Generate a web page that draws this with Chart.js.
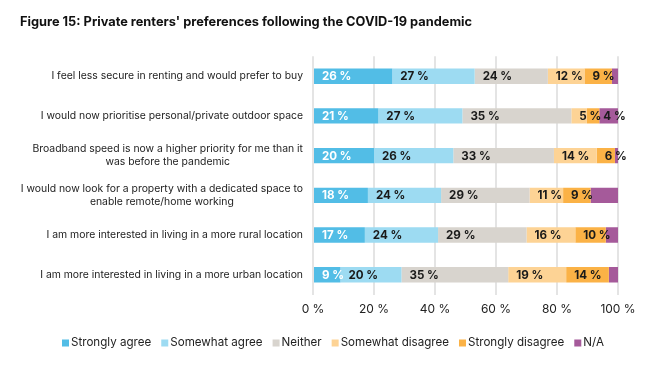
<!DOCTYPE html>
<html>
<head>
<meta charset="utf-8">
<script src="https://cdn.jsdelivr.net/npm/chart.js@4"></script>
<style>
  html, body { margin: 0; padding: 0; background: #ffffff; }
  #wrap { width: 649px; height: 365px; position: relative; }
</style>
</head>
<body>
<div id="wrap"><canvas id="chart"></canvas></div>
<script>
  // statements, top to bottom
  const CATEGORIES = [
    ['I feel less secure in renting and would prefer to buy'],
    ['I would now prioritise personal/private outdoor space'],
    ['Broadband speed is now a higher priority for me than it', 'was before the pandemic'],
    ['I would now look for a property with a dedicated space to', 'enable remote/home working'],
    ['I am more interested in living in a more rural location'],
    ['I am more interested in living in a more urban location']
  ];

  const STRONGLY_AGREE = [26, 21, 20, 18, 17, 9];
  const SOMEWHAT_AGREE = [27, 27, 26, 24, 24, 20];
  const NEITHER = [24, 35, 33, 29, 29, 35];
  const SOMEWHAT_DISAGREE = [12, 5, 14, 11, 16, 19];
  const STRONGLY_DISAGREE = [9, 4, 6, 9, 10, 14];
  const NOT_APPLICABLE = [2, 6, 1, 9, 4, 3];
  // only one N/A value is labelled in the original
  const NA_LABELS = ['', '4 %', '', '', '', ''];

  const X_TICKS = [0, 20, 40, 60, 80, 100];

  const SERIES = [
    { label: 'Strongly agree', values: STRONGLY_AGREE, color: '#52bde6' },
    { label: 'Somewhat agree', values: SOMEWHAT_AGREE, color: '#9ddbf2' },
    { label: 'Neither', values: NEITHER, color: '#d8d4ce' },
    { label: 'Somewhat disagree', values: SOMEWHAT_DISAGREE, color: '#fdd395' },
    { label: 'Strongly disagree', values: STRONGLY_DISAGREE, color: '#fbb246' },
    { label: 'N/A', values: NOT_APPLICABLE, color: '#a55a9a' }
  ];

  const FONT = 'Inter, "DejaVu Sans", sans-serif';

  // 100% stacked: each row is scaled to its own total
  const rowTotals = CATEGORIES.map((_, i) => SERIES.reduce((s, d) => s + d.values[i], 0));

  const datasets = SERIES.map((s) => ({
    label: s.label,
    raw: s.values,
    data: s.values.map((v, i) => v / rowTotals[i] * 100),
    backgroundColor: s.color,
    borderWidth: 0,
    categoryPercentage: 0.8,
    barPercentage: 0.485
  }));

  const valueLabels = {
    id: 'valueLabels',
    afterDatasetsDraw(chart) {
      const ctx = chart.ctx;
      ctx.save();
      ctx.font = 'bold 11.6px ' + FONT;
      ctx.textAlign = 'left';
      ctx.textBaseline = 'middle';
      chart.data.datasets.forEach((ds, di) => {
        const meta = chart.getDatasetMeta(di);
        meta.data.forEach((bar, i) => {
          let text = '';
          if (di === SERIES.length - 1) text = NA_LABELS[i];
          else if (ds.raw[i] >= 5) text = ds.raw[i] + ' %';
          if (!text) return;
          const left = Math.min(bar.x, bar.base);
          const pad = di === SERIES.length - 1 ? 4 : 8;
          ctx.fillStyle = di === 0 ? '#ffffff' : '#1a1a1a';
          ctx.fillText(text, left + pad, bar.y + 0.5);
        });
      });
      ctx.restore();
    }
  };

  const categoryLabels = {
    id: 'categoryLabels',
    afterDraw(chart) {
      const ctx = chart.ctx;
      const yScale = chart.scales.y;
      const right = chart.chartArea.left - 10;
      const lineH = 12.6;
      ctx.save();
      ctx.font = '10.4px ' + FONT;
      ctx.fillStyle = '#222222';
      ctx.textAlign = 'center';
      ctx.textBaseline = 'middle';
      CATEGORIES.forEach((lines, i) => {
        const py = yScale.getPixelForValue(i);
        const w = Math.max(...lines.map((l) => ctx.measureText(l).width));
        const cx = right - w / 2;
        const y0 = py - (lines.length - 1) * lineH / 2;
        lines.forEach((l, k) => ctx.fillText(l, cx, y0 + k * lineH));
      });
      ctx.restore();
    }
  };

  // compact legend: small square right next to its text
  const bottomLegend = {
    id: 'bottomLegend',
    afterDraw(chart) {
      const ctx = chart.ctx;
      const box = 7;
      let x = 62;
      const y = 343;
      ctx.save();
      ctx.font = '11.6px ' + FONT;
      ctx.textAlign = 'left';
      ctx.textBaseline = 'middle';
      chart.data.datasets.forEach((ds) => {
        ctx.fillStyle = ds.backgroundColor;
        ctx.fillRect(x, y - box / 2, box, box);
        x += box + 2;
        ctx.fillStyle = '#222222';
        ctx.fillText(ds.label, x, y);
        x += ctx.measureText(ds.label).width + 10;
      });
      ctx.restore();
    }
  };

  new Chart(document.getElementById('chart'), {
    type: 'bar',
    data: {
      labels: CATEGORIES.map((c) => c.join(' ')),
      datasets: datasets
    },
    options: {
      indexAxis: 'y',
      responsive: true,
      maintainAspectRatio: false,
      animation: false,
      layout: { padding: { left: 20, right: 31, top: 0, bottom: 40 } },
      scales: {
        x: {
          stacked: true,
          min: 0,
          max: 100,
          afterBuildTicks: (scale) => { scale.ticks = X_TICKS.map((v) => ({ value: v })); },
          grid: { color: '#e4e4e4', lineWidth: 2, drawTicks: false },
          border: { display: false },
          ticks: {
            padding: 8,
            color: '#222222',
            font: { family: FONT, size: 12 },
            callback: (v) => v + ' %'
          }
        },
        y: {
          stacked: true,
          grid: { display: false },
          border: { display: false },
          ticks: { display: false },
          afterFit: (scale) => { scale.width = 293; }
        }
      },
      plugins: {
        title: {
          display: true,
          text: "Figure 15: Private renters' preferences following the COVID-19 pandemic",
          align: 'start',
          color: '#111111',
          font: { family: FONT, size: 12.8, weight: 'bold' },
          padding: { top: 14, bottom: 27 }
        },
        legend: { display: false },
        tooltip: { enabled: false }
      }
    },
    plugins: [valueLabels, categoryLabels, bottomLegend]
  });
</script>
</body>
</html>
